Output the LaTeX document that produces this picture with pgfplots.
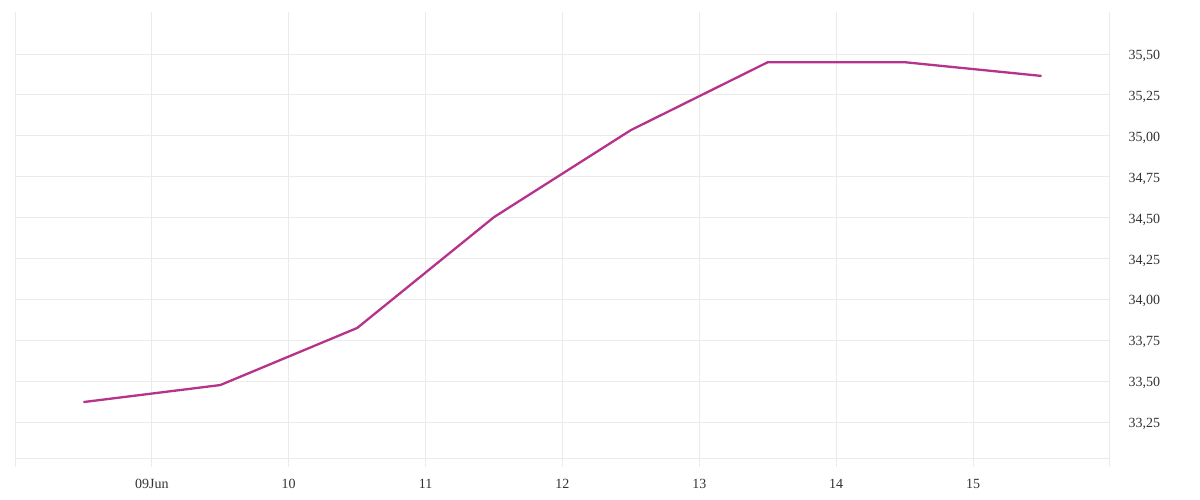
\documentclass[border=0pt]{standalone}
\usepackage{fontspec}
\setmainfont{Liberation Serif}
\usepackage{pgfplots}
\pgfplotsset{compat=1.18}
\definecolor{linec}{HTML}{B5338A}
\definecolor{gridc}{HTML}{EBEBEB}
\definecolor{textc}{HTML}{333333}
\begin{document}
\begin{tikzpicture}[x=1pt,y=1pt]
\useasboundingbox (0,0) rectangle (1200,500);
\begin{axis}[
  at={(15pt,33pt)}, anchor=south west,
  scale only axis, width=1095pt, height=455pt,
  xmin=8, xmax=16, ymin=32.975, ymax=35.757,
  axis line style={draw=none},
  tick style={draw=none},
  xtick={9,10,11,12,13,14,15},
  xticklabels={09Jun,10,11,12,13,14,15},
  extra x ticks={8,16}, extra x tick labels={},
  extra x tick style={grid=major, tick style={draw=none}},
  ytick={33.25,33.5,33.75,34,34.25,34.5,34.75,35,35.25,35.5},
  extra y ticks={33.03}, extra y tick labels={},
  extra y tick style={grid=major, tick style={draw=none}},
  yticklabel pos=right,
  /pgf/number format/fixed,
  /pgf/number format/fixed zerofill,
  /pgf/number format/precision=2,
  /pgf/number format/use comma,
  /pgf/number format/assume math mode=true,
  ticklabel style={font=\fontsize{14}{16}\selectfont, text=textc},
  xticklabel style={yshift=-9pt},
  yticklabel style={xshift=15pt, yshift=-2pt},
  grid=major,
  major grid style={draw=gridc, line width=1pt},
  clip=false,
]
\addplot[linec, line width=2.3pt, line join=round] coordinates {
(8.5,33.372) (9.5,33.476) (10.5,33.825) (11.5,34.503) (12.5,35.035) (13.5,35.45) (14.5,35.45) (15.5,35.366)
};
\end{axis}
\end{tikzpicture}
\end{document}
